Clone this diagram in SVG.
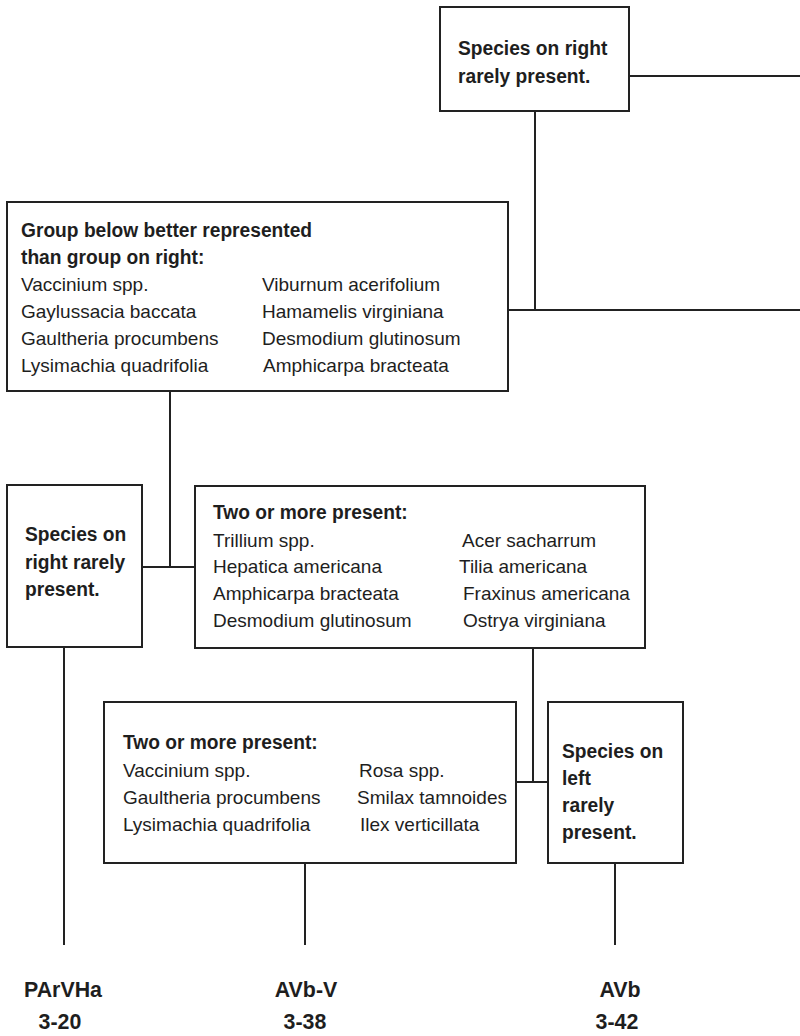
<svg xmlns="http://www.w3.org/2000/svg" width="800" height="1036" viewBox="0 0 800 1036">
  <style>
    .box { fill: #ffffff; stroke: #222222; stroke-width: 2; }
    .link { fill: none; stroke: #222222; stroke-width: 2; }
    text { font-family: "Liberation Sans", Arial, sans-serif; fill: #1e1e1e; }
    .hd { font-size: 20px; font-weight: bold; transform-box: fill-box; transform-origin: 0 100%; transform: scaleX(0.96); }
    .sp { font-size: 19px; }
    .lbl { font-size: 23px; font-weight: bold; text-anchor: middle; transform-box: fill-box; transform-origin: 50% 100%; transform: scaleX(0.93); }
  </style>
  <rect width="800" height="1036" fill="#ffffff"/>

  <!-- connectors -->
  <g id="connectors">
    <path class="link" d="M629 76 H800"/>
    <path class="link" d="M535 111 V310"/>
    <path class="link" d="M508 310 H800"/>
    <path class="link" d="M170 391 V567"/>
    <path class="link" d="M142 567 H195"/>
    <path class="link" d="M64 647 V945"/>
    <path class="link" d="M533 648 V782"/>
    <path class="link" d="M516 782 H548"/>
    <path class="link" d="M305 863 V945"/>
    <path class="link" d="M615 863 V945"/>
  </g>

  <!-- top decision -->
  <g id="node-top">
    <rect class="box" x="440" y="7" width="189" height="104"/>
    <text class="hd" x="458" y="55">Species on right</text>
    <text class="hd" x="458" y="83">rarely present.</text>
  </g>

  <!-- group comparison -->
  <g id="node-group">
    <rect class="box" x="7" y="202" width="501" height="189"/>
    <text class="hd" x="21" y="237">Group below better represented</text>
    <text class="hd" x="21" y="264">than group on right:</text>
    <text class="sp" x="21" y="291">Vaccinium spp.</text>
    <text class="sp" x="21" y="318">Gaylussacia baccata</text>
    <text class="sp" x="21" y="345">Gaultheria procumbens</text>
    <text class="sp" x="21" y="372">Lysimachia quadrifolia</text>
    <text class="sp" x="262" y="291">Viburnum acerifolium</text>
    <text class="sp" x="262" y="318">Hamamelis  virginiana</text>
    <text class="sp" x="262" y="345">Desmodium glutinosum</text>
    <text class="sp" x="263" y="372">Amphicarpa bracteata</text>
  </g>

  <!-- left rarity decision -->
  <g id="node-left-rare">
    <rect class="box" x="7" y="485" width="135" height="162"/>
    <text class="hd" x="25" y="541">Species on</text>
    <text class="hd" x="25" y="569">right rarely</text>
    <text class="hd" x="25" y="596">present.</text>
  </g>

  <!-- hardwood indicators -->
  <g id="node-hardwood">
    <rect class="box" x="195" y="486" width="450" height="162"/>
    <text class="hd" x="213" y="519">Two or more present:</text>
    <text class="sp" x="213" y="547">Trillium spp.</text>
    <text class="sp" x="213" y="573">Hepatica americana</text>
    <text class="sp" x="213" y="600">Amphicarpa bracteata</text>
    <text class="sp" x="213" y="627">Desmodium glutinosum</text>
    <text class="sp" x="462" y="547">Acer sacharrum</text>
    <text class="sp" x="459" y="573">Tilia americana</text>
    <text class="sp" x="463" y="600">Fraxinus americana</text>
    <text class="sp" x="463" y="627">Ostrya virginiana</text>
  </g>

  <!-- shrub indicators -->
  <g id="node-shrub">
    <rect class="box" x="104" y="702" width="412" height="161"/>
    <text class="hd" x="123" y="749">Two or more present:</text>
    <text class="sp" x="123" y="777">Vaccinium spp.</text>
    <text class="sp" x="123" y="804">Gaultheria procumbens</text>
    <text class="sp" x="123" y="831">Lysimachia quadrifolia</text>
    <text class="sp" x="359" y="777">Rosa spp.</text>
    <text class="sp" x="357" y="804">Smilax tamnoides</text>
    <text class="sp" x="360" y="831">Ilex verticillata</text>
  </g>

  <!-- right rarity decision -->
  <g id="node-right-rare">
    <rect class="box" x="548" y="702" width="135" height="161"/>
    <text class="hd" x="562" y="758">Species on</text>
    <text class="hd" x="562" y="785">left</text>
    <text class="hd" x="562" y="812">rarely</text>
    <text class="hd" x="562" y="839">present.</text>
  </g>

  <!-- outcomes -->
  <g id="out-parvha">
    <text class="lbl" x="63" y="997">PArVHa</text>
    <text class="lbl" x="60" y="1029">3-20</text>
  </g>
  <g id="out-avb-v">
    <text class="lbl" x="306" y="997">AVb-V</text>
    <text class="lbl" x="305" y="1029">3-38</text>
  </g>
  <g id="out-avb">
    <text class="lbl" x="620" y="997">AVb</text>
    <text class="lbl" x="617" y="1029">3-42</text>
  </g>
</svg>
